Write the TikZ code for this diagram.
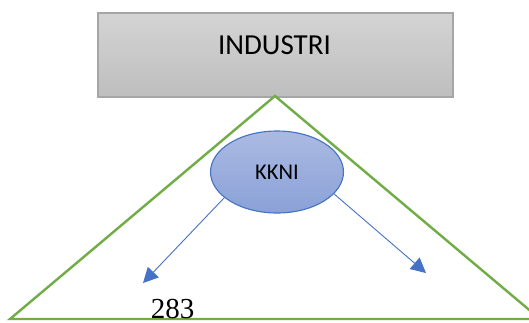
\documentclass[tikz,border=0pt]{standalone}
\usepackage{fontspec}
\setmainfont{Carlito}
\newfontfamily\timesfont{Liberation Serif}
\usetikzlibrary{arrows.meta,shapes.geometric}
\definecolor{boxborder}{HTML}{A6A6A6}
\definecolor{boxtop}{HTML}{D4D4D4}
\definecolor{boxbot}{HTML}{BEBEBE}
\definecolor{ovaltop}{HTML}{ABBAE2}
\definecolor{ovalbot}{HTML}{8AA1D7}
\definecolor{accblue}{HTML}{4472C4}
\definecolor{accgreen}{HTML}{70AD47}
\tikzset{
  graybox/.style={draw=boxborder, line width=1.5pt, top color=boxtop, bottom color=boxbot,
    minimum width=355pt, minimum height=84pt, inner sep=0pt},
  oval/.style={ellipse, draw=accblue, line width=1.1pt, top color=ovaltop, bottom color=ovalbot,
    minimum width=133pt, minimum height=82pt, inner sep=0pt, font=\fontsize{22.5}{27}\selectfont},
  flowarrow/.style={draw=accblue, line width=0.9pt, -{Triangle[length=15pt,width=15pt]}},
  greenline/.style={draw=accgreen, line width=2.4pt, line join=miter},
}
\begin{document}
\begin{tikzpicture}[x=1pt,y=-1pt]
\useasboundingbox (0,0) rectangle (529,322);
\clip (0,0) rectangle (529,322);
\fill[white] (0,0) rectangle (529,322);
\node[graybox] (industri) at (275.5,55) {};
\node[anchor=base, inner sep=0pt, font=\fontsize{29}{34}\selectfont] (industritext) at (274.5,54) {INDUSTRI};
\coordinate (apex) at (275,96);
\coordinate (leftc) at (10,319);
\coordinate (rightc) at (540,319);
\draw[greenline] (leftc) -- (apex) -- (rightc) -- cycle;
\node[oval] (kkni) at (277,172) {KKNI};
\coordinate (lefttip) at (143,283);
\coordinate (righttip) at (426,273);
\draw[flowarrow] (kkni.206) -- (lefttip);
\draw[flowarrow] (kkni.339) -- (righttip);
\node[anchor=base, inner sep=0pt, font=\timesfont\fontsize{29}{35}\selectfont] (num) at (172.5,318.5) {283};
\end{tikzpicture}
\end{document}
